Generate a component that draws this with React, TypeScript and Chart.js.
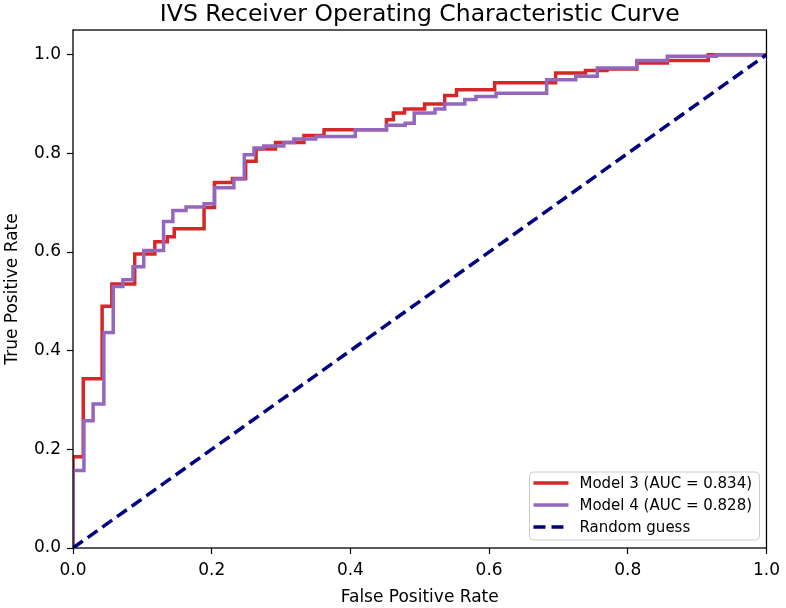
import React, { useEffect, useRef } from 'react';
import { Chart, registerables } from 'chart.js';

Chart.register(...registerables);

// Step-curve corner points: each (fpr, tpr) starts a horizontal level
const model3Fpr = [0, 0, 0.0148, 0.042, 0.056, 0.089, 0.118, 0.136, 0.146, 0.189, 0.204, 0.23, 0.249, 0.264, 0.292, 0.333, 0.362, 0.452, 0.462, 0.478, 0.507, 0.536, 0.553, 0.608, 0.696, 0.739, 0.77, 0.813, 0.857, 0.916, 1.0];
const model3Tpr = [0, 0.185, 0.343, 0.49, 0.535, 0.596, 0.621, 0.631, 0.647, 0.69, 0.741, 0.749, 0.784, 0.809, 0.822, 0.836, 0.848, 0.868, 0.882, 0.89, 0.9, 0.917, 0.929, 0.943, 0.963, 0.968, 0.971, 0.983, 0.988, 1.0, 1.0];

const model4Fpr = [0, 0, 0.0158, 0.029, 0.0445, 0.058, 0.072, 0.0865, 0.102, 0.1306, 0.144, 0.163, 0.189, 0.204, 0.232, 0.247, 0.261, 0.275, 0.304, 0.3185, 0.35, 0.407, 0.452, 0.479, 0.492, 0.522, 0.536, 0.565, 0.581, 0.61, 0.683, 0.725, 0.756, 0.813, 0.857, 0.928, 1.0];
const model4Tpr = [0, 0.157, 0.258, 0.292, 0.437, 0.53, 0.544, 0.57, 0.603, 0.662, 0.684, 0.691, 0.698, 0.73, 0.748, 0.797, 0.811, 0.815, 0.822, 0.829, 0.834, 0.848, 0.857, 0.861, 0.882, 0.89, 0.9, 0.909, 0.915, 0.922, 0.949, 0.956, 0.973, 0.988, 0.997, 1.0, 1.0];

const randomFpr = [0, 1];
const randomTpr = [0, 1];

const seriesLabels = ['Model 3 (AUC = 0.834)', 'Model 4 (AUC = 0.828)', 'Random guess'];
const xTicks = [0, 0.2, 0.4, 0.6, 0.8, 1.0];
const yTicks = [0, 0.2, 0.4, 0.6, 0.8, 1.0];
const chartTitle = 'IVS Receiver Operating Characteristic Curve';
const xLabel = 'False Positive Rate';
const yLabel = 'True Positive Rate';

const FONT = '"DejaVu Sans", "Liberation Sans", sans-serif';

const toPoints = (xs: number[], ys: number[]) => xs.map((x, i) => ({ x, y: ys[i] }));

const titlePlugin = {
  id: 'customTitle',
  afterDraw(chart: any) {
    const { ctx, chartArea } = chart;
    ctx.save();
    ctx.fillStyle = '#000';
    ctx.font = `23.5px ${FONT}`;
    ctx.textAlign = 'center';
    ctx.textBaseline = 'alphabetic';
    ctx.fillText(chartTitle, (chartArea.left + chartArea.right) / 2, 21);
    ctx.restore();
  },
};

const framePlugin = {
  id: 'frame',
  afterDatasetsDraw(chart: any) {
    const { ctx, chartArea } = chart;
    ctx.save();
    ctx.strokeStyle = '#000';
    ctx.lineWidth = 1.3;
    ctx.strokeRect(chartArea.left, chartArea.top, chartArea.right - chartArea.left, chartArea.bottom - chartArea.top);
    ctx.restore();
  },
};

const legendPlugin = {
  id: 'insideLegend',
  afterDraw(chart: any) {
    const { ctx, chartArea } = chart;
    const w = 230;
    const h = 68;
    const x = chartArea.right - 7 - w;
    const y = chartArea.bottom - 8 - h;
    ctx.save();
    ctx.beginPath();
    const r = 4;
    ctx.moveTo(x + r, y);
    ctx.lineTo(x + w - r, y);
    ctx.quadraticCurveTo(x + w, y, x + w, y + r);
    ctx.lineTo(x + w, y + h - r);
    ctx.quadraticCurveTo(x + w, y + h, x + w - r, y + h);
    ctx.lineTo(x + r, y + h);
    ctx.quadraticCurveTo(x, y + h, x, y + h - r);
    ctx.lineTo(x, y + r);
    ctx.quadraticCurveTo(x, y, x + r, y);
    ctx.closePath();
    ctx.fillStyle = 'rgba(255,255,255,0.8)';
    ctx.fill();
    ctx.strokeStyle = '#cccccc';
    ctx.lineWidth = 1;
    ctx.stroke();
    chart.data.datasets.forEach((ds: any, i: number) => {
      const cy = y + 11 + i * 22;
      ctx.beginPath();
      ctx.strokeStyle = ds.borderColor;
      ctx.lineWidth = ds.borderWidth;
      ctx.setLineDash(ds.borderDash || []);
      ctx.moveTo(x + 4, cy);
      ctx.lineTo(x + 39, cy);
      ctx.stroke();
      ctx.setLineDash([]);
      ctx.fillStyle = '#000';
      ctx.font = `15px ${FONT}`;
      ctx.textAlign = 'left';
      ctx.textBaseline = 'middle';
      ctx.fillText(ds.label, x + 50, cy + 1);
    });
    ctx.restore();
  },
};

export default function App() {
  const canvasRef = useRef<HTMLCanvasElement | null>(null);

  useEffect(() => {
    document.body.style.margin = '0';
    const canvas = canvasRef.current;
    if (!canvas) return;
    const chart = new Chart(canvas, {
      type: 'line',
      data: {
        datasets: [
          {
            label: seriesLabels[0],
            data: toPoints(model3Fpr, model3Tpr),
            borderColor: '#d62728',
            borderWidth: 3.5,
            stepped: 'before',
            pointRadius: 0,
            fill: false,
            order: 2,
            clip: 0,
          },
          {
            label: seriesLabels[1],
            data: toPoints(model4Fpr, model4Tpr),
            borderColor: '#9467bd',
            borderWidth: 3.5,
            stepped: 'before',
            pointRadius: 0,
            fill: false,
            order: 1,
            clip: 0,
          },
          {
            label: seriesLabels[2],
            data: toPoints(randomFpr, randomTpr),
            borderColor: '#000080',
            borderWidth: 3.5,
            borderDash: [12, 6],
            pointRadius: 0,
            fill: false,
            order: 0,
            clip: 0,
          },
        ],
      },
      options: {
        animation: false,
        responsive: false,
        maintainAspectRatio: false,
        devicePixelRatio: 1,
        layout: { padding: { top: 30, right: 16, left: 0, bottom: 0 } },
        plugins: {
          legend: { display: false },
          tooltip: { enabled: false },
          title: { display: false },
        },
        scales: {
          x: {
            type: 'linear',
            min: 0,
            max: 1,
            afterBuildTicks: (scale: any) => {
              scale.ticks = xTicks.map((v) => ({ value: v }));
            },
            afterFit: (scale: any) => {
              scale.height = 60;
            },
            border: { display: false },
            grid: { display: true, drawOnChartArea: false, drawTicks: true, tickLength: 6, tickColor: '#000', tickWidth: 1.2 },
            ticks: {
              color: '#000',
              font: { family: FONT, size: 17 },
              padding: 6,
              maxRotation: 0,
              callback: (v: any) => Number(v).toFixed(1),
            },
            title: { display: true, text: xLabel, color: '#000', font: { family: FONT, size: 17 }, padding: { top: 0, bottom: 0 } },
          },
          y: {
            type: 'linear',
            min: 0,
            max: 1.05,
            afterBuildTicks: (scale: any) => {
              scale.ticks = yTicks.map((v) => ({ value: v }));
            },
            afterFit: (scale: any) => {
              scale.width = 73;
            },
            border: { display: false },
            grid: { display: true, drawOnChartArea: false, drawTicks: true, tickLength: 6, tickColor: '#000', tickWidth: 1.2 },
            ticks: {
              color: '#000',
              font: { family: FONT, size: 17 },
              padding: 6,
              callback: (v: any) => Number(v).toFixed(1),
            },
            title: { display: true, text: yLabel, color: '#000', font: { family: FONT, size: 17 }, padding: { top: 2, bottom: 0 } },
          },
        },
      },
      plugins: [framePlugin, legendPlugin, titlePlugin],
    } as any);
    return () => chart.destroy();
  }, []);

  return (
    <div style={{ position: 'absolute', left: 0, top: 0, width: 786, height: 608, background: '#fff' }}>
      <canvas ref={canvasRef} width={786} height={608} />
    </div>
  );
}
